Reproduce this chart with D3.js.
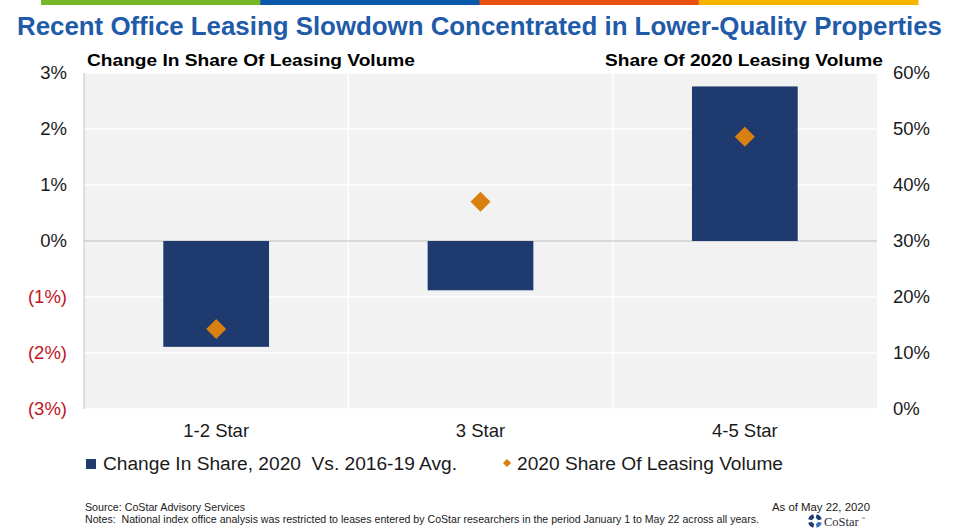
<!DOCTYPE html>
<html>
<head>
<meta charset="utf-8">
<script src="https://cdn.jsdelivr.net/npm/d3@7"></script>
<style>
  html, body { margin: 0; padding: 0; background: #fff; }
  svg { display: block; font-family: "Liberation Sans", Arial, sans-serif; }
</style>
</head>
<body>
<div id="chart"></div>
<script>
// data
var categories = ['1-2 Star', '3 Star', '4-5 Star'];
var changeInShare = [-0.0189, -0.0088, 0.0276];   // bars, left axis
var share2020 = [0.143, 0.370, 0.486];             // diamonds, right axis
var leftTicks = [-0.03, -0.02, -0.01, 0, 0.01, 0.02, 0.03];
var rightTicks = [0, 0.1, 0.2, 0.3, 0.4, 0.5, 0.6];
var stripeColors = ['#76b82a', '#0a58a8', '#e9500e', '#f7b500'];

var W = 960, H = 532;
var plot = { left: 84, right: 877, top: 73, bottom: 409 };
var navy = '#1f3a6e', orange = '#d98010';

var svg = d3.select('#chart').append('svg')
    .attr('width', W)
    .attr('height', H);

// colour stripe along the top
var stripeX = d3.scaleBand().domain(d3.range(stripeColors.length)).range([41, 918]);
svg.selectAll('rect.stripe').data(stripeColors)
  .enter().append('rect')
    .attr('class', 'stripe')
    .attr('x', function(d, i) { return stripeX(i); })
    .attr('y', 0)
    .attr('width', stripeX.bandwidth() + 0.5)
    .attr('height', 5)
    .attr('fill', function(d) { return d; });

// titles
svg.append('text')
    .attr('x', 17).attr('y', 35)
    .attr('textLength', 925).attr('lengthAdjust', 'spacingAndGlyphs')
    .attr('font-size', 25).attr('font-weight', 'bold')
    .attr('fill', '#1f5ba8')
    .text('Recent Office Leasing Slowdown Concentrated in Lower-Quality Properties');

svg.append('text')
    .attr('x', 87).attr('y', 66)
    .attr('textLength', 328).attr('lengthAdjust', 'spacingAndGlyphs')
    .attr('font-size', 17).attr('font-weight', 'bold')
    .text('Change In Share Of Leasing Volume');

svg.append('text')
    .attr('x', 605).attr('y', 66)
    .attr('textLength', 278).attr('lengthAdjust', 'spacingAndGlyphs')
    .attr('font-size', 17).attr('font-weight', 'bold')
    .text('Share Of 2020 Leasing Volume');

// scales
var x = d3.scaleBand().domain(categories).range([plot.left, plot.right]);
var yLeft = d3.scaleLinear().domain([-0.03, 0.03]).range([plot.bottom, plot.top]);
var yRight = d3.scaleLinear().domain([0, 0.6]).range([plot.bottom, plot.top]);

// plot background and grid
svg.append('rect')
    .attr('x', plot.left).attr('y', plot.top)
    .attr('width', plot.right - plot.left).attr('height', plot.bottom - plot.top)
    .attr('fill', '#f2f2f2');

svg.selectAll('line.hgrid').data(leftTicks.filter(function(t) { return t !== 0; }))
  .enter().append('line')
    .attr('class', 'hgrid')
    .attr('x1', plot.left).attr('x2', plot.right)
    .attr('y1', function(d) { return yLeft(d); })
    .attr('y2', function(d) { return yLeft(d); })
    .attr('stroke', '#fff').attr('stroke-width', 1.5);

svg.selectAll('line.vgrid').data(categories.slice(1))
  .enter().append('line')
    .attr('class', 'vgrid')
    .attr('x1', function(d) { return x(d); })
    .attr('x2', function(d) { return x(d); })
    .attr('y1', plot.top).attr('y2', plot.bottom)
    .attr('stroke', '#fff').attr('stroke-width', 1.5);

// left axis line + zero line
svg.append('line')
    .attr('x1', plot.left).attr('x2', plot.left)
    .attr('y1', plot.top).attr('y2', plot.bottom)
    .attr('stroke', '#c4c4c4');
svg.append('line')
    .attr('x1', plot.left).attr('x2', plot.right)
    .attr('y1', yLeft(0)).attr('y2', yLeft(0))
    .attr('stroke', '#bdbdbd').attr('stroke-width', 1.2);

// bars
var barW = x.bandwidth() * 0.4;
svg.selectAll('rect.bar').data(changeInShare)
  .enter().append('rect')
    .attr('class', 'bar')
    .attr('x', function(d, i) { return x(categories[i]) + (x.bandwidth() - barW) / 2; })
    .attr('y', function(d) { return yLeft(Math.max(d, 0)); })
    .attr('width', barW)
    .attr('height', function(d) { return Math.abs(yLeft(d) - yLeft(0)); })
    .attr('fill', navy);

// diamonds
var diamond = d3.symbol().type(d3.symbolSquare).size(200);
svg.selectAll('path.pt').data(share2020)
  .enter().append('path')
    .attr('class', 'pt')
    .attr('d', diamond)
    .attr('transform', function(d, i) {
      return 'translate(' + (x(categories[i]) + x.bandwidth() / 2) + ',' + yRight(d) + ') rotate(45)';
    })
    .attr('fill', orange);

// axes
var pctLeft = function(d) {
  var v = Math.round(Math.abs(d) * 100);
  return d < 0 ? '(' + v + '%)' : v + '%';
};
var gLeft = svg.append('g')
    .attr('transform', 'translate(' + (plot.left - 17) + ',0)')
    .call(d3.axisLeft(yLeft).tickValues(leftTicks).tickFormat(pctLeft).tickSize(0).tickPadding(0));
gLeft.select('.domain').remove();
gLeft.selectAll('text')
    .attr('font-family', '"Liberation Sans", Arial, sans-serif')
    .attr('font-size', 18.5)
    .attr('fill', function(d) { return d < 0 ? '#c0141c' : '#1a1a1a'; });

var gRight = svg.append('g')
    .attr('transform', 'translate(' + (plot.right + 16) + ',0)')
    .call(d3.axisRight(yRight).tickValues(rightTicks).tickFormat(d3.format('.0%')).tickSize(0).tickPadding(0));
gRight.select('.domain').remove();
gRight.selectAll('text')
    .attr('font-family', '"Liberation Sans", Arial, sans-serif')
    .attr('font-size', 18.5)
    .attr('fill', '#1a1a1a');

var gBottom = svg.append('g')
    .attr('transform', 'translate(0,' + plot.bottom + ')')
    .call(d3.axisBottom(x).tickSize(0).tickPadding(15));
gBottom.select('.domain').remove();
gBottom.selectAll('text')
    .attr('font-family', '"Liberation Sans", Arial, sans-serif')
    .attr('font-size', 18.5)
    .attr('fill', '#1a1a1a');

// legend
var legend = svg.append('g').attr('font-size', 18).attr('fill', '#1a1a1a');
legend.append('rect')
    .attr('x', 86).attr('y', 459).attr('width', 10).attr('height', 10)
    .attr('fill', navy);
legend.append('text')
    .attr('x', 103).attr('y', 470)
    .attr('textLength', 354).attr('lengthAdjust', 'spacingAndGlyphs')
    .attr('xml:space', 'preserve')
    .text('Change In Share, 2020  Vs. 2016-19 Avg.');
legend.append('path')
    .attr('d', d3.symbol().type(d3.symbolSquare).size(34))
    .attr('transform', 'translate(507,463) rotate(45)')
    .attr('fill', orange);
legend.append('text')
    .attr('x', 517).attr('y', 470)
    .attr('textLength', 266).attr('lengthAdjust', 'spacingAndGlyphs')
    .text('2020 Share Of Leasing Volume');

// footer
var foot = svg.append('g').attr('font-size', 10.5).attr('fill', '#1a1a1a');
foot.append('text')
    .attr('x', 85).attr('y', 511)
    .attr('textLength', 160).attr('lengthAdjust', 'spacingAndGlyphs')
    .text('Source: CoStar Advisory Services');
foot.append('text')
    .attr('x', 85).attr('y', 523)
    .attr('textLength', 674).attr('lengthAdjust', 'spacingAndGlyphs')
    .attr('xml:space', 'preserve')
    .text('Notes:  National index office analysis was restricted to leases entered by CoStar researchers in the period January 1 to May 22 across all years.');
foot.append('text')
    .attr('x', 870).attr('y', 511)
    .attr('text-anchor', 'end')
    .attr('textLength', 98).attr('lengthAdjust', 'spacingAndGlyphs')
    .text('As of May 22, 2020');

// CoStar logo mark
var logo = svg.append('g').attr('transform', 'translate(815,521)');
var seg = d3.arc().innerRadius(3).outerRadius(7);
d3.range(4).forEach(function(i) {
  var a0 = i * Math.PI / 2 + 0.25;
  logo.append('path')
      .attr('d', seg({ startAngle: a0, endAngle: a0 + Math.PI / 2 - 0.5 }))
      .attr('fill', i === 1 ? '#3f6fb5' : navy);
});
svg.append('text')
    .attr('x', 824).attr('y', 526)
    .attr('font-family', '"Liberation Serif", "Times New Roman", serif')
    .attr('font-size', 12.5)
    .attr('fill', '#2a2a3a')
    .text('CoStar');
svg.append('text')
    .attr('x', 861).attr('y', 520)
    .attr('font-size', 4)
    .attr('fill', '#2a2a3a')
    .text('™');
</script>
</body>
</html>
